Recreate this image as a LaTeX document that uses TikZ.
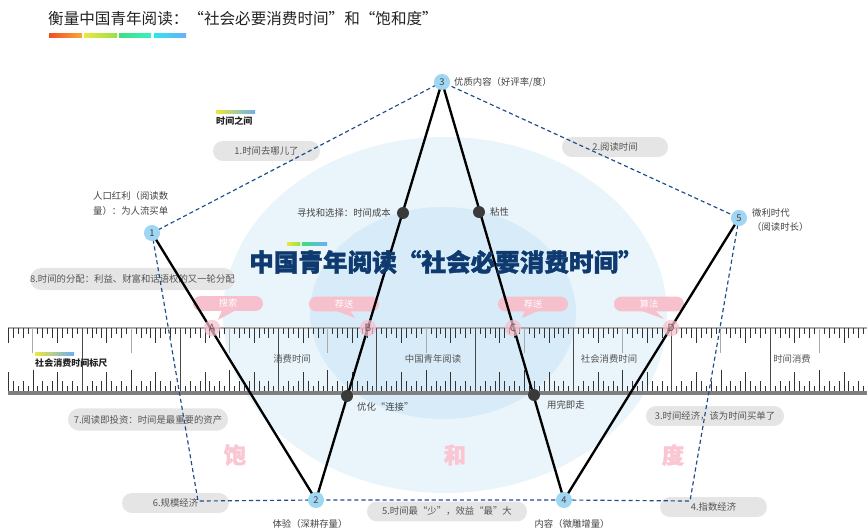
\documentclass[tikz,border=0pt]{standalone}
\usepackage{fontspec}
\setmainfont{Noto Sans CJK SC}
\newfontfamily\heavyfont{Noto Sans CJK SC}[BoldFeatures={FakeBold=1.6}]
\usetikzlibrary{calc}
\definecolor{titlec}{HTML}{222222}
\definecolor{navy}{HTML}{0E3A70}
\definecolor{outerbg}{HTML}{EAF5FB}
\definecolor{innerbg}{HTML}{D7EBF8}
\definecolor{boxgray}{HTML}{E5E5E5}
\definecolor{boxtext}{HTML}{555555}
\definecolor{labtext}{HTML}{444444}
\definecolor{nodeblue}{HTML}{9ED6F3}
\definecolor{dotc}{HTML}{3A3A3A}
\definecolor{pinkc}{HTML}{F6C0CD}
\definecolor{pinkletter}{HTML}{7A4A57}
\definecolor{bigpink}{HTML}{F9C6D2}
\definecolor{dashc}{HTML}{1E4D8A}
\definecolor{tickc}{HTML}{333333}
\definecolor{tickg}{HTML}{AAAAAA}
\definecolor{barc}{HTML}{808080}
\definecolor{cA}{HTML}{F04E23}
\definecolor{cB}{HTML}{F9A83A}
\definecolor{cC}{HTML}{ECE83A}
\definecolor{cD}{HTML}{98E04A}
\definecolor{cE}{HTML}{3CE07E}
\definecolor{cF}{HTML}{38F0C4}
\definecolor{cG}{HTML}{2EE6F2}
\definecolor{cH}{HTML}{6AAEF8}
\begin{document}
\begin{tikzpicture}[x=0.03cm,y=-0.03cm,
  gbox/.style={fill=boxgray, rounded corners=8.5pt, minimum height=17pt, inner sep=0pt, text=boxtext, font=\fontsize{8}{10}\selectfont},
  pbubble/.style={fill=pinkc, rounded corners=6.3pt, minimum width=59.8pt, minimum height=12.6pt, inner sep=0pt, text=white, font=\fontsize{7.8}{9}\selectfont},
  pcirc/.style={circle, fill=pinkc, fill opacity=0.72, text opacity=1, minimum size=14pt, inner sep=0pt, text=pinkletter, font=\fontsize{8.5}{9}\selectfont},
  pnode/.style={circle, fill=nodeblue, minimum size=13.7pt, inner sep=0pt, text=labtext, font=\fontsize{8}{10}\selectfont},
  xdot/.style={circle, fill=dotc, minimum size=10.2pt, inner sep=0pt},
  lab/.style={text=labtext, inner sep=0pt, font=\fontsize{8}{10}\selectfont},
  star/.style={line width=2pt, black},
  dashl/.style={dashc, line width=1pt, dash pattern=on 3.5pt off 2.5pt},
  tick/.style={tickc, line width=0.55pt},
  graytick/.style={tickg, line width=0.8pt},
  majtick/.style={tickc!90, line width=0.7pt},
  bigch/.style={text=bigpink, font=\fontsize{19}{22}\selectfont\heavyfont\bfseries, inner sep=0pt}
]
\useasboundingbox (0,0) rectangle (867,529);

% title
\node[anchor=west, inner sep=0pt, text=titlec, font=\fontsize{13.3}{15}\selectfont] (title) at (48,19) {衡量中国青年阅读：“社会必要消费时间”和“饱和度”};
\shade[left color=cA, right color=cB] (49,33) rectangle (82,37);
\shade[left color=cC, right color=cD] (84,33) rectangle (117,37);
\shade[left color=cE, right color=cF] (119,33) rectangle (151,37);
\shade[left color=cG, right color=cH] (154,33) rectangle (186,37);

% background ellipses
\fill[outerbg] (445,315) ellipse [x radius=222, y radius=178];
\fill[innerbg] (443,313) ellipse [x radius=133, y radius=106];

% ruler
\draw[tickg, line width=1.2pt] (8,328) -- (867,328);
\foreach \i in {-15,...,159}{
  \pgfmathsetmacro\xx{82+\i*4.915}
  \pgfmathtruncatemacro\mm{mod(\i+200,20)}
  \pgfmathtruncatemacro\mt{mod(\i+200,10)}
  \pgfmathtruncatemacro\mf{mod(\i+200,5)}
  \pgfmathtruncatemacro\md{mod(\i+200,2)}
  \ifnum\mm=0
    \draw[majtick] (\xx,328) -- (\xx,392);
  \else\ifnum\mt=0
    \draw[graytick] (\xx,328) -- (\xx,353);
    \draw[tick] (\xx,392) -- (\xx,370);
  \else\ifnum\mf=0
    \draw[tick] (\xx,328) -- (\xx,343);
    \draw[tick] (\xx,392) -- (\xx,372);
  \else\ifnum\md=0
    \draw[tick] (\xx,328) -- (\xx,338);
    \draw[tick] (\xx,392) -- (\xx,381);
  \else
    \draw[tick] (\xx,328) -- (\xx,334);
    \draw[tick] (\xx,392) -- (\xx,386);
  \fi\fi\fi\fi
}
\fill[barc] (8,391) rectangle (867,395);
\node[lab, text=boxtext] (r1) at (292,359) {消费时间};
\node[lab, text=boxtext] (r2) at (433,359) {中国青年阅读};
\node[lab, text=boxtext] (r3) at (609,359) {社会消费时间};
\node[lab, text=boxtext] (r4) at (792,359) {时间消费};
\shade[left color=cC, middle color=cF, right color=cH] (35,352) rectangle (74,355);
\node[anchor=west, inner sep=0pt, text=titlec, font=\fontsize{7.7}{9}\selectfont\bfseries] (rulername) at (35,363) {社会消费时间标尺};

% section label
\shade[left color=cC, middle color=cF, right color=cH] (216,110) rectangle (255,113);
\node[anchor=west, inner sep=0pt, text=titlec, font=\fontsize{7.7}{9}\selectfont\bfseries] (between) at (216,121) {时间之间};

% gray boxes
\node[gbox, minimum width=91.3pt] (b1) at (266.5,151) {1.时间去哪儿了};
\node[gbox, minimum width=90.5pt] (b2) at (615,147) {2.阅读时间};
\node[gbox, minimum width=117.8pt] (b3) at (715,416) {3.时间经济，该为时间买单了};
\node[gbox, minimum width=91.3pt] (b4) at (713.5,507) {4.指数经济};
\node[gbox, minimum width=136.6pt] (b5) at (447,511.5) {5.时间最“少”，效益“最”大};
\node[gbox, minimum width=91.3pt] (b6) at (175.5,503) {6.规模经济};
\node[gbox, minimum width=136.6pt, minimum height=19pt, rounded corners=9.5pt] (b7) at (148,419.5) {7.阅读即投资：时间是最重要的资产};
\node[gbox, minimum width=166.4pt, minimum height=18.8pt, rounded corners=9.4pt] (b8) at (132.5,279) {8.时间的分配：利益、财富和话语权的又一轮分配};

% pink callouts
\node[pbubble] (sA) at (228,303.5) {搜索};
\node[pbubble] (sB) at (344,304) {荐送};
\node[pbubble] (sC) at (533,304) {荐送};
\node[pbubble] (sD) at (649,304) {算法};
\coordinate (tA) at (218,320);
\coordinate (tB) at (355,318);
\coordinate (tC) at (522,318);
\coordinate (tD) at (664,319);
\fill[pinkc] ($(sA.south)+(-6,-1)$) -- (tA) -- ($(sA.south)+(8,-1)$) -- cycle;
\fill[pinkc] ($(sB.south)+(-8,-1)$) -- (tB) -- ($(sB.south)+(6,-1)$) -- cycle;
\fill[pinkc] ($(sC.south)+(-8,-1)$) -- (tC) -- ($(sC.south)+(6,-1)$) -- cycle;
\fill[pinkc] ($(sD.south)+(-8,-1)$) -- (tD) -- ($(sD.south)+(6,-1)$) -- cycle;

% big pink characters
\node[bigch] (bao) at (235,455) {饱};
\node[bigch] (he) at (455,455) {和};
\node[bigch] (du) at (673,455) {度};

% pentagon nodes positions
\coordinate (p1) at (152,233);
\coordinate (p2) at (316,500);
\coordinate (p3) at (442,82);
\coordinate (p4) at (564,500);
\coordinate (p5) at (739,218);
\coordinate (cR) at (690,501);
\coordinate (cL) at (198,501);

% dashed pentagon
\draw[dashl] (p1) -- (p3) -- (p5) -- (cR) -- (p4) -- (p2) -- (cL) -- cycle;

% star lines
\draw[star, line join=miter] (p1) -- (p2) -- (p3) -- (p4) -- (p5);

% pink letter circles on ruler
\node[pcirc] (A) at (212,328) {A};
\node[pcirc] (B) at (368,328) {B};
\node[pcirc] (C) at (513,328) {C};
\node[pcirc] (D) at (671,328) {D};

% intersection dots
\node[xdot] (d1) at (403,213) {};
\node[xdot] (d2) at (479,212) {};
\node[xdot] (d3) at (347,396) {};
\node[xdot] (d4) at (534,395) {};

% numbered nodes
\node[pnode] (n1) at (p1) {1};
\node[pnode] (n2) at (p2) {2};
\node[pnode] (n3) at (p3) {3};
\node[pnode] (n4) at (p4) {4};
\node[pnode] (n5) at (p5) {5};

% labels
\node[lab, anchor=north west, align=left, font=\fontsize{8}{13}\selectfont] (l1) at (93,191) {人口红利（阅读数\\量）：为人流买单};
\node[lab, anchor=west] (l3) at (454,82) {优质内容（好评率/度）};
\node[lab, anchor=north west, align=left, font=\fontsize{8}{12.5}\selectfont] (l5) at (752,208) {微利时代\\（阅读时长）};
\node[lab] (l2) at (310,524) {体验（深耕存量）};
\node[lab] (l4) at (572,524) {内容（微雕增量）};
\node[lab, anchor=east] (ld1) at (391,213) {寻找和选择：时间成本};
\node[lab, anchor=west] (ld2) at (490,212) {粘性};
\node[lab, anchor=west] (ld3) at (357,407) {优化“连接”};
\node[lab, anchor=west] (ld4) at (547,405) {用完即走};

% central title
\shade[left color=cC, right color=cD] (287,242) rectangle (300,245);
\shade[left color=cE, middle color=cG, right color=cH] (302,242) rectangle (327,245);
\node[inner sep=0pt, text=navy, font=\fontsize{21}{24}\selectfont\heavyfont\bfseries] (maintitle) at (446,262) {中国青年阅读“社会必要消费时间”};
\end{tikzpicture}
\end{document}
